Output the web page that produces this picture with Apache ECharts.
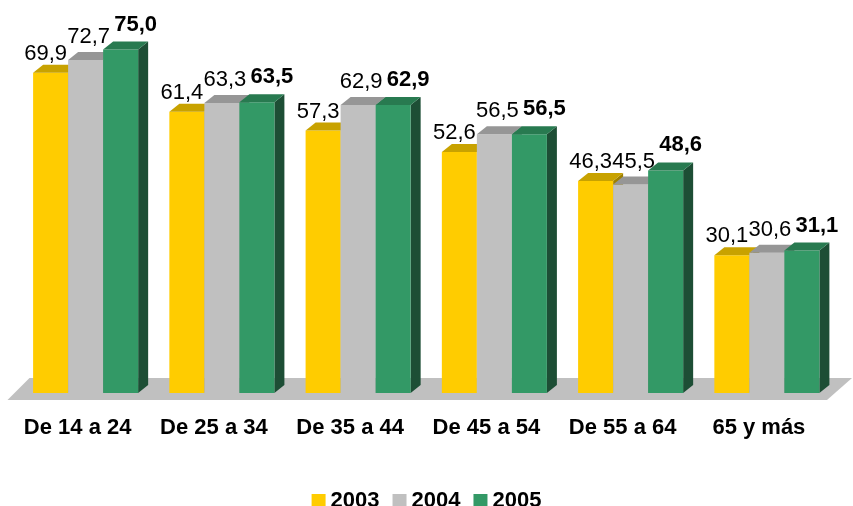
<!DOCTYPE html>
<html>
<head>
<meta charset="utf-8">
<script src="https://cdn.jsdelivr.net/npm/echarts@6/dist/echarts.min.js"></script>
<style>
  html, body { margin: 0; padding: 0; background: #fff; }
  #chart { width: 853px; height: 506px; }
</style>
</head>
<body>
<div id="chart"></div>
<script>
// grupos de edad
var categories = ['De 14 a 24', 'De 25 a 34', 'De 35 a 44', 'De 45 a 54', 'De 55 a 64', '65 y más'];
var years = ['2003', '2004', '2005'];
var values2003 = [69.9, 61.4, 57.3, 52.6, 46.3, 30.1];
var values2004 = [72.7, 63.3, 62.9, 56.5, 45.5, 30.6];
var values2005 = [75.0, 63.5, 62.9, 56.5, 48.6, 31.1];

// colores: frente, tapa, lateral + desplazamiento de la etiqueta
var looks = [
  { front: '#FFCC00', top: '#C8A200', side: '#9E8000', lx: -5, ly: -19, bold: false },
  { front: '#C0C0C0', top: '#969696', side: '#7F7F7F', lx: 3, ly: -23, bold: false },
  { front: '#339966', top: '#287A50', side: '#1D4E35', lx: 15, ly: -25, bold: true }
];
var DX = 10, DY = 8;
var FONT = '"Liberation Sans", Arial, sans-serif';

function fmt(v) {
  return v.toFixed(1).replace('.', ',');
}

function barRenderer(idx) {
  var look = looks[idx];
  return function (params, api) {
    var cat = api.value(0);
    var val = api.value(1);
    var band = api.size([1, 0])[0];
    var w = band * 0.257;
    var center = api.coord([cat, 0]);
    var topPt = api.coord([cat, val]);
    var x = center[0] - 1.5 * w + idx * w;
    var y0 = center[1];
    var yt = topPt[1];
    return {
      type: 'group',
      children: [
        { type: 'polygon', shape: { points: [[x + w, yt], [x + w + DX, yt - DY], [x + w + DX, y0 - DY], [x + w, y0]] },
          style: { fill: look.side } },
        { type: 'rect', shape: { x: x, y: yt, width: w, height: y0 - yt }, style: { fill: look.front } },
        { type: 'polygon', shape: { points: [[x, yt], [x + DX, yt - DY], [x + w + DX, yt - DY], [x + w, yt]] },
          style: { fill: look.top } },
        { type: 'text', z2: 100, x: x + w / 2 + look.lx, y: yt + look.ly,
          style: { text: fmt(val), align: 'center', verticalAlign: 'middle', fill: '#000',
            font: (look.bold ? 'bold ' : '') + '22px ' + FONT } }
      ]
    };
  };
}

function floorRenderer(params, api) {
  var cs = params.coordSys;
  var y0 = api.coord([0, 0])[1];
  var left = cs.x, right = cs.x + cs.width;
  return {
    type: 'polygon',
    z2: -10,
    shape: { points: [[left - 10, y0 + 7], [right - 8, y0 + 7], [right + 17, y0 - 15], [left + 12, y0 - 15]] },
    style: { fill: '#C0C0C0' }
  };
}

var seriesData = [values2003, values2004, values2005];
var series = [{
  type: 'custom',
  name: 'floor',
  renderItem: floorRenderer,
  data: [[0, 0]],
  silent: true,
  z: 1
}];
years.forEach(function (y, i) {
  series.push({
    type: 'custom',
    name: y,
    renderItem: barRenderer(i),
    itemStyle: { color: looks[i].front },
    encode: { x: 0, y: 1 },
    data: seriesData[i].map(function (v, k) { return [k, v]; }),
    z: 2
  });
});

var chart = echarts.init(document.getElementById('chart'));
chart.setOption({
  backgroundColor: '#fff',
  animation: false,
  color: ['#FFCC00', '#C0C0C0', '#339966'],
  grid: { left: 17.5, right: 18, top: 26.6, bottom: 113 },
  legend: {
    data: years,
    top: 485,
    left: 'center',
    icon: 'rect',
    itemWidth: 14,
    itemHeight: 14,
    itemGap: 13,
    textStyle: { fontFamily: FONT, fontWeight: 'bold', fontSize: 22, color: '#000' }
  },
  xAxis: {
    type: 'category',
    data: categories,
    axisLine: { show: false },
    axisTick: { show: false },
    axisLabel: {
      interval: 0,
      margin: 24,
      padding: [0, 16, 0, 0],
      color: '#000',
      fontWeight: 'bold',
      fontSize: 22,
      fontFamily: FONT
    }
  },
  yAxis: { type: 'value', min: 0, max: 80, show: false, splitLine: { show: false } },
  series: series
});
</script>
</body>
</html>
